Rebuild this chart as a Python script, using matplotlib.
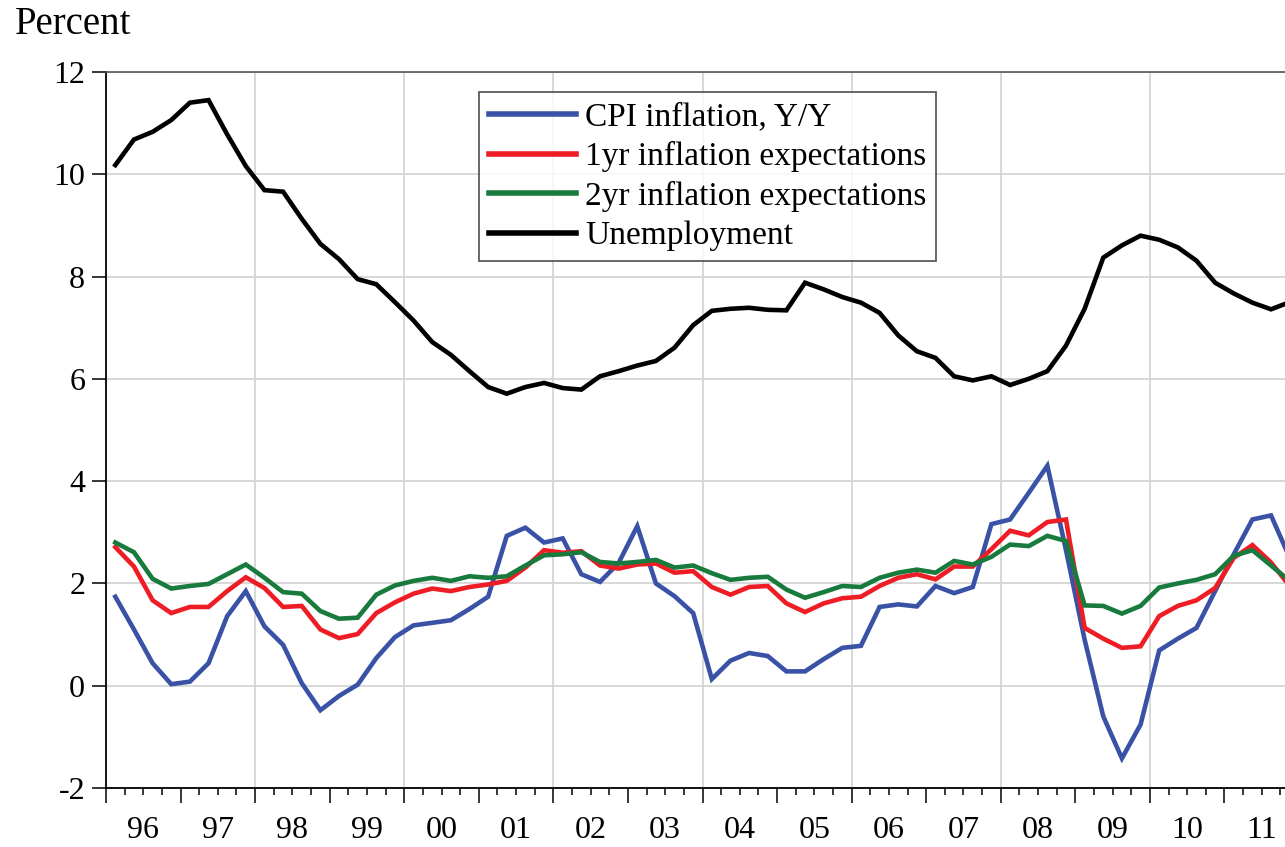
import matplotlib
matplotlib.use('Agg')
import matplotlib.pyplot as plt
from matplotlib.ticker import FixedLocator, FuncFormatter
import pandas as pd

# quarterly data 1996Q1 - 2011Q4, one row per year
quarters = pd.period_range('1996Q1', '2011Q4', freq='Q')

cpi = [1.74, 1.10, 0.44, 0.03,
       0.08, 0.44, 1.36, 1.85,
       1.16, 0.80, 0.05, -0.48,
       -0.20, 0.02, 0.54, 0.95,
       1.18, 1.23, 1.28, 1.50,
       1.74, 2.93, 3.09, 2.80,
       2.88, 2.18, 2.03, 2.40,
       3.12, 2.00, 1.75, 1.42,
       0.13, 0.49, 0.64, 0.58,
       0.28, 0.28, 0.52, 0.74,
       0.78, 1.54, 1.59, 1.55,
       1.95, 1.81, 1.93, 3.16,
       3.25, 3.77, 4.30, 2.65,
       0.90, -0.60, -1.42, -0.76,
       0.69, 0.92, 1.13, 1.85,
       2.57, 3.25, 3.33, 2.50]

exp1yr = [2.71, 2.33, 1.67, 1.42,
          1.54, 1.54, 1.85, 2.12,
          1.91, 1.54, 1.56, 1.10,
          0.93, 1.01, 1.42, 1.63,
          1.80, 1.90, 1.85, 1.93,
          1.98, 2.05, 2.31, 2.65,
          2.60, 2.63, 2.35, 2.29,
          2.37, 2.39, 2.21, 2.24,
          1.93, 1.78, 1.93, 1.95,
          1.61, 1.44, 1.61, 1.71,
          1.74, 1.95, 2.11, 2.18,
          2.08, 2.33, 2.33, 2.67,
          3.03, 2.94, 3.20, 3.25,
          1.13, 0.92, 0.74, 0.77,
          1.36, 1.56, 1.67, 1.91,
          2.50, 2.75, 2.41, 1.95]

exp2yr = [2.80, 2.61, 2.09, 1.90,
          1.95, 1.99, 2.18, 2.37,
          2.11, 1.83, 1.80, 1.46,
          1.31, 1.33, 1.78, 1.96,
          2.05, 2.11, 2.05, 2.14,
          2.11, 2.14, 2.35, 2.55,
          2.57, 2.61, 2.42, 2.39,
          2.42, 2.46, 2.31, 2.35,
          2.20, 2.07, 2.11, 2.13,
          1.88, 1.72, 1.83, 1.95,
          1.93, 2.11, 2.21, 2.27,
          2.21, 2.44, 2.37, 2.52,
          2.76, 2.73, 2.93, 2.83,
          1.57, 1.56, 1.41, 1.56,
          1.92, 2.00, 2.07, 2.18,
          2.54, 2.65, 2.35, 2.05]

unemp = [10.18, 10.68, 10.83, 11.06,
         11.40, 11.45, 10.78, 10.16,
         9.69, 9.66, 9.13, 8.64,
         8.34, 7.95, 7.85, 7.50,
         7.14, 6.72, 6.47, 6.15,
         5.84, 5.71, 5.84, 5.92,
         5.82, 5.79, 6.05, 6.15,
         6.26, 6.35, 6.61, 7.05,
         7.33, 7.37, 7.39, 7.35,
         7.34, 7.88, 7.75, 7.60,
         7.49, 7.29, 6.85, 6.54,
         6.41, 6.05, 5.97, 6.05,
         5.88, 6.00, 6.15, 6.65,
         7.37, 8.37, 8.61, 8.80,
         8.72, 8.57, 8.31, 7.88,
         7.67, 7.49, 7.36, 7.50]

labels = ['CPI inflation, Y/Y', '1yr inflation expectations',
          '2yr inflation expectations', 'Unemployment']
colors = ['#3a52a6', '#ee1d25', '#187a3c', '#000000']

# plot each quarter in the middle of its interval
x = [q.year + (q.quarter - 0.5) / 4 for q in quarters]

plt.rcParams['font.family'] = ['Liberation Serif', 'DejaVu Serif']
plt.rcParams['axes.unicode_minus'] = False

fig = plt.figure(figsize=(12.85, 8.47), dpi=100)
# axes runs past the right edge of the picture, like the cropped original
ax = fig.add_axes([106/1285, 1 - 788/847, 1193/1285, 716/847])

for s, lab, c in zip([cpi, exp1yr, exp2yr, unemp], labels, colors):
  ax.plot(x, s, color=c, lw=3.3, label=lab, solid_joinstyle='miter', zorder=3)

ax.set_xlim(1996, 2012)
ax.set_ylim(-2, 12)
ax.set_yticks(range(-2, 13, 2))

years = list(range(1996, 2013))
ax.xaxis.set_major_locator(FixedLocator(years))
ax.xaxis.set_major_formatter(FuncFormatter(lambda v, p: ''))
qtr = [y + k / 4 for y in range(1996, 2012) for k in (1, 2, 3)]
ax.xaxis.set_minor_locator(FixedLocator(qtr))
def yearlab(v, p):
  if abs(v - int(v) - 0.5) < 1e-6:
    return '%02d' % (int(v) % 100)
  return ''
ax.xaxis.set_minor_formatter(FuncFormatter(yearlab))

ax.tick_params(axis='x', which='major', length=11, width=1.1, direction='out')
ax.tick_params(axis='x', which='minor', length=5, width=1.1, direction='out',
               pad=15, labelsize=23)
ax.tick_params(axis='y', which='major', length=10, width=1.1, direction='out',
               pad=5, labelsize=23)

for v in range(-2, 13, 2):
  ax.axhline(v, color='#d6d6d6', lw=1.3, zorder=1)
for v in range(1998, 2012, 2):
  ax.axvline(v, color='#d6d6d6', lw=1.3, zorder=1)

ax.spines['left'].set_linewidth(1.3)
ax.spines['bottom'].set_linewidth(1.3)
ax.spines['top'].set_color('#555555')
ax.spines['top'].set_linewidth(1.2)
ax.spines['right'].set_visible(False)

leg = ax.legend(loc='upper left', bbox_to_anchor=(0.3127, 0.972), borderaxespad=0,
                fontsize=24, frameon=True, fancybox=False, handlelength=2.6,
                handletextpad=0.28, labelspacing=0.26, borderpad=0.3)
leg.get_frame().set_edgecolor('#333333')
leg.get_frame().set_linewidth(1.3)
for line in leg.get_lines():
  line.set_linewidth(4.0)

fig.text(15/1285, 1 - 25/847, 'Percent', fontsize=28, va='center', ha='left')

fig.savefig('out.png', dpi=100)
